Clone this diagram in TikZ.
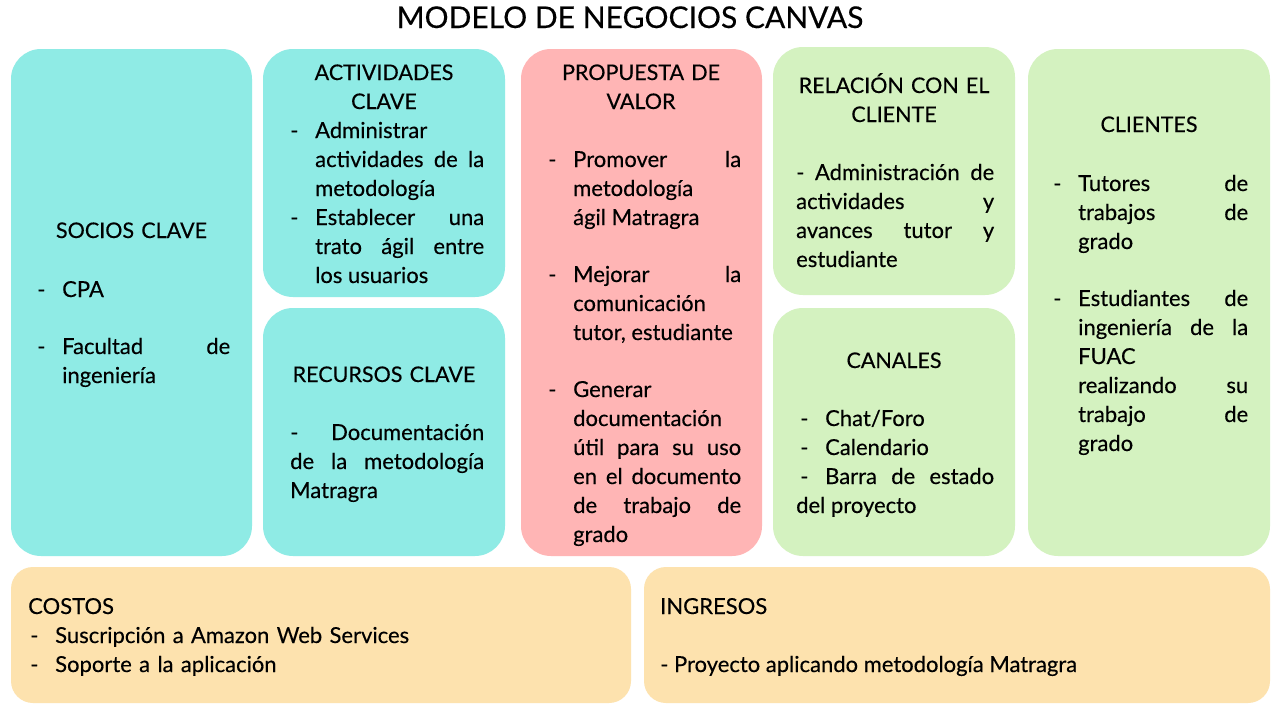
\documentclass[tikz,border=0pt]{standalone}
\usepackage{fontspec}
\setmainfont{Lato}[FakeBold=0.3]
\definecolor{cyanc}{HTML}{8FEBE5}
\definecolor{pinkc}{HTML}{FFB5B5}
\definecolor{greenc}{HTML}{D4F2C0}
\definecolor{orangec}{HTML}{FDE2AE}
\newcommand{\bitem}[1]{\noindent\hangindent=25pt\hangafter=1\makebox[25pt][l]{-}#1\par}
\tikzset{
  card/.style={rounded corners=30pt},
  lowcard/.style={rounded corners=22pt, fill=orangec},
  head/.style={inner sep=0pt, anchor=base, align=center, font=\fontsize{21.5}{29}\selectfont},
  body/.style={inner sep=0pt, anchor=base west, align=justify, font=\fontsize{22}{29}\selectfont},
  plain/.style={inner sep=0pt, anchor=base west, align=left, font=\fontsize{22}{29}\selectfont}
}
\begin{document}
\begin{tikzpicture}[x=1pt,y=-1pt]
\useasboundingbox[fill=white] (0,0) rectangle (1280,720);
\node[inner sep=0pt, anchor=base, font=\fontsize{30}{34}\selectfont] (title) at (630,28) {MODELO DE NEGOCIOS CANVAS};
% boxes
\path[card, fill=cyanc] (11,49) rectangle (252,556);
\path[card, fill=cyanc] (263,49) rectangle (505,297);
\path[card, fill=cyanc] (263,308) rectangle (505,556);
\path[card, fill=pinkc] (521,49) rectangle (762,556);
\path[card, fill=greenc] (773,47) rectangle (1015,295);
\path[card, fill=greenc] (773,308) rectangle (1015,556);
\path[card, fill=greenc] (1028,49) rectangle (1270,556);
\path[lowcard] (11,567) rectangle (631,703);
\path[lowcard] (644,567) rectangle (1270,703);
% socios
\node[head, text width=220pt] (sociosT) at (131.5,238) {SOCIOS CLAVE};
\node[body, text width=193pt] (sociosB1) at (37,297) {\bitem{CPA}};
\node[body, text width=193pt] (sociosB2) at (37,354) {\bitem{Facultad de\linebreak ingeniería}};
% actividades
\node[head, text width=230pt] (actT) at (384,80) {ACTIVIDADES\\CLAVE};
\node[body, text width=194pt] (actB1) at (290,138) {\bitem{Administrar\linebreak actividades de la\linebreak metodología}};
\node[body, text width=194pt] (actB2) at (290,225) {\bitem{Establecer una\linebreak trato ágil entre\linebreak los usuarios}};
% recursos
\node[head, text width=230pt] (recT) at (384,382) {RECURSOS CLAVE};
\node[body, text width=194pt] (recB) at (290,440) {\noindent- Documentación\linebreak de la metodología\linebreak Matragra};
% propuesta
\node[head, text width=230pt] (propT) at (641,80) {PROPUESTA DE\\VALOR};
\node[body, text width=193pt] (propB1) at (548,167) {\bitem{Promover la\linebreak metodología\linebreak ágil Matragra}};
\node[body, text width=193pt] (propB2) at (548,282) {\bitem{Mejorar la\linebreak comunicación\linebreak tutor, estudiante}};
\node[body, text width=193pt] (propB3) at (548,397) {\bitem{Generar\linebreak documentación\linebreak útil para su uso\linebreak en el documento\linebreak de trabajo de\linebreak grado}};
% relacion
\node[head, text width=240pt] (relT) at (894,93) {RELACIÓN CON EL\\CLIENTE};
\node[body, text width=198pt] (relB) at (796,180) {\noindent- Administración de\linebreak actividades y\linebreak avances tutor y\linebreak estudiante};
% canales
\node[head, text width=240pt] (canT) at (894,368) {CANALES};
\node[body, text width=198pt] (canB) at (796,426) {\noindent\hspace*{4pt}\makebox[25pt][l]{-}Chat/Foro\par\noindent\hspace*{4pt}\makebox[25pt][l]{-}Calendario\par\noindent\hspace*{4pt}\makebox[25pt][l]{-}Barra de estado\linebreak del proyecto};
% clientes
\node[head, text width=240pt] (cliT) at (1149,132) {CLIENTES};
\node[body, text width=195pt] (cliB1) at (1053,191) {\bitem{Tutores de\linebreak trabajos de\linebreak grado}};
\node[body, text width=195pt] (cliB2) at (1053,306) {\bitem{Estudiantes de\linebreak ingeniería de la\linebreak FUAC\linebreak realizando su\linebreak trabajo de\linebreak grado}};
% costos
\node[plain] (cosT) at (28,614) {COSTOS};
\node[plain, text width=560pt] (cosB1) at (30,643) {\bitem{Suscripción a Amazon Web Services}};
\node[plain, text width=560pt] (cosB2) at (30,672) {\bitem{Soporte a la aplicación}};
% ingresos
\node[plain] (ingT) at (660,614) {INGRESOS};
\node[plain] (ingB) at (660,672) {- Proyecto aplicando metodología Matragra};
\end{tikzpicture}
\end{document}
